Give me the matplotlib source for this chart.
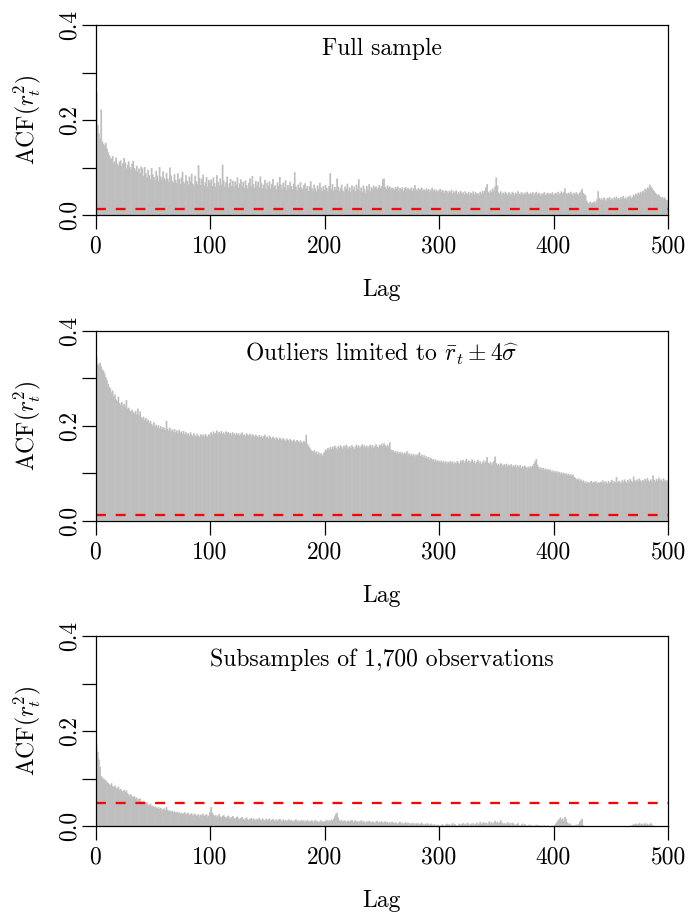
import matplotlib
matplotlib.use('Agg')
import matplotlib.pyplot as plt
import numpy as np

plt.rcParams['font.family'] = 'serif'
plt.rcParams['font.serif'] = ['cmr10']
plt.rcParams['mathtext.fontset'] = 'cm'
plt.rcParams['axes.unicode_minus'] = False

# ---------------- data (ACF of squared returns, lags 1..500) ----------------
acf_full = [
    .258, .190, .172, .160, .222, .155, .150, .146, .152, .140, .132, .126, .121, .118, .124, .110, .113, .121, .108, .104,
    .112, .115, .103, .109, .120, .111, .098, .106, .113, .101, .096, .108, .114, .099, .094, .104, .091, .098, .088, .102,
    .098, .082, .101, .087, .079, .095, .084, .076, .099, .086, .080, .074, .093, .083, .072, .101, .081, .075, .092, .078,
    .073, .089, .077, .070, .100, .083, .072, .068, .086, .074, .067, .088, .076, .065, .079, .091, .070, .066, .084, .072,
    .064, .081, .070, .087, .066, .062, .083, .071, .065, .105, .078, .063, .076, .085, .062, .069, .080, .060, .074, .068,
    .075, .061, .079, .067, .059, .084, .070, .062, .077, .064, .106, .073, .060, .069, .081, .058, .067, .076, .061, .072,
    .060, .071, .064, .079, .057, .067, .075, .061, .070, .058, .073, .063, .056, .068, .077, .060, .082, .065, .057, .072,
    .062, .070, .058, .081, .067, .056, .064, .074, .055, .068, .061, .071, .056, .065, .076, .059, .063, .054, .069, .061,
    .080, .064, .055, .068, .059, .073, .053, .063, .058, .070, .061, .054, .066, .090, .060, .052, .064, .057, .069, .058,
    .054, .063, .067, .055, .061, .051, .060, .071, .057, .052, .064, .056, .050, .062, .055, .068, .058, .051, .061, .053,
    .063, .057, .050, .061, .088, .054, .065, .051, .059, .053, .077, .060, .050, .057, .064, .052, .049, .060, .055, .066,
    .051, .058, .049, .062, .053, .060, .050, .064, .055, .075, .051, .058, .048, .062, .054, .047, .061, .052, .065, .050,
    .059, .055, .062, .057, .060, .054, .058, .063, .056, .061, .075, .077, .059, .055, .062, .057, .060, .054, .058, .056,
    .053, .059, .055, .060, .052, .057, .054, .058, .051, .056, .059, .053, .057, .052, .055, .058, .051, .056, .063, .054,
    .052, .057, .053, .055, .058, .051, .054, .050, .056, .052, .055, .049, .053, .057, .051, .054, .050, .053, .048, .052,
    .055, .049, .053, .051, .047, .052, .050, .046, .051, .048, .053, .045, .050, .047, .052, .044, .049, .046, .051, .045,
    .048, .043, .050, .046, .044, .049, .042, .047, .045, .050, .043, .048, .044, .046, .042, .049, .045, .051, .047, .052,
    .058, .065, .049, .046, .052, .048, .056, .050, .060, .079, .062, .048, .045, .050, .043, .047, .044, .049, .046, .042,
    .048, .045, .043, .049, .046, .042, .047, .044, .050, .045, .043, .048, .046, .042, .047, .044, .049, .045, .043, .047,
    .044, .048, .042, .046, .049, .043, .047, .045, .041, .046, .044, .048, .042, .045, .047, .043, .046, .044, .048, .042,
    .045, .047, .043, .049, .044, .046, .050, .045, .048, .056, .046, .043, .047, .044, .049, .045, .042, .047, .044, .048,
    .045, .043, .047, .050, .055, .046, .044, .041, .030, .026, .025, .028, .024, .027, .026, .029, .025, .033, .050, .036,
    .032, .035, .031, .037, .033, .030, .036, .034, .038, .032, .035, .031, .037, .034, .039, .033, .036, .032, .038, .035,
    .040, .034, .037, .033, .039, .036, .041, .035, .038, .043, .040, .045, .042, .047, .044, .049, .046, .051, .048, .055,
    .052, .058, .056, .064, .060, .057, .053, .050, .047, .044, .041, .043, .039, .036, .038, .034, .037, .033, .031, .030,
]

acf_trimmed = [
    .344, .330, .327, .333, .325, .318, .316, .310, .302, .296, .288, .282, .279, .270, .274, .262, .266, .255, .252, .261,
    .248, .244, .250, .242, .246, .240, .254, .236, .238, .232, .230, .234, .228, .226, .231, .224, .236, .222, .230, .218,
    .215, .219, .212, .216, .209, .213, .206, .210, .204, .200, .207, .198, .202, .196, .201, .194, .199, .193, .197, .195,
    .191, .210, .194, .189, .196, .188, .192, .187, .193, .186, .190, .184, .191, .185, .188, .183, .189, .182, .186, .181,
    .184, .179, .186, .181, .178, .184, .180, .177, .183, .179, .176, .182, .178, .181, .177, .183, .179, .176, .182, .180,
    .186, .181, .188, .183, .185, .190, .182, .187, .184, .189, .183, .186, .181, .188, .184, .187, .182, .185, .180, .186,
    .183, .180, .185, .181, .184, .179, .183, .186, .180, .182, .178, .184, .181, .179, .183, .177, .182, .180, .176, .181,
    .178, .175, .180, .176, .179, .174, .178, .181, .175, .177, .173, .179, .176, .172, .177, .174, .171, .176, .173, .170,
    .175, .172, .169, .174, .171, .168, .173, .170, .167, .172, .169, .166, .171, .168, .165, .170, .167, .164, .169, .166,
    .163, .168, .165, .181, .162, .158, .154, .150, .147, .145, .148, .143, .146, .140, .144, .139, .142, .137, .141, .145,
    .150, .148, .153, .149, .155, .151, .156, .152, .158, .154, .150, .157, .153, .159, .155, .151, .158, .154, .160, .156,
    .152, .157, .153, .159, .155, .151, .156, .160, .154, .158, .153, .157, .161, .155, .159, .154, .158, .152, .157, .160,
    .155, .159, .153, .157, .161, .156, .154, .160, .158, .162, .157, .163, .159, .155, .160, .156, .165, .150, .146, .149,
    .144, .147, .142, .146, .141, .145, .140, .144, .139, .143, .141, .146, .138, .142, .137, .141, .136, .140, .135, .139,
    .137, .141, .144, .136, .139, .134, .138, .132, .136, .131, .134, .128, .132, .127, .130, .125, .129, .124, .127, .126,
    .123, .127, .122, .126, .121, .125, .120, .124, .122, .126, .121, .125, .119, .123, .121, .126, .122, .120, .127, .124,
    .128, .122, .126, .130, .124, .127, .121, .125, .129, .123, .126, .120, .124, .128, .122, .125, .119, .123, .127, .121,
    .125, .134, .122, .120, .124, .118, .122, .126, .135, .121, .117, .120, .116, .121, .118, .115, .119, .116, .120, .114,
    .118, .115, .119, .113, .117, .114, .118, .112, .116, .113, .117, .111, .115, .112, .116, .113, .110, .114, .111, .115,
    .112, .116, .120, .125, .130, .118, .113, .109, .112, .108, .111, .107, .110, .106, .109, .105, .108, .103, .106, .102,
    .105, .101, .104, .100, .103, .099, .102, .098, .101, .097, .100, .096, .099, .095, .098, .094, .097, .092, .090, .088,
    .086, .089, .084, .087, .082, .085, .080, .083, .079, .082, .078, .081, .084, .079, .082, .080, .083, .078, .081, .079,
    .082, .080, .085, .079, .083, .081, .078, .084, .080, .082, .086, .079, .083, .081, .092, .080, .084, .082, .079, .085,
    .081, .087, .083, .080, .086, .082, .088, .084, .081, .093, .085, .082, .087, .083, .089, .085, .081, .086, .083, .088,
    .084, .090, .085, .082, .087, .083, .095, .086, .082, .088, .084, .091, .085, .087, .083, .089, .084, .086, .082, .085,
]

acf_sub = [
    .170, .156, .140, .125, .105, .102, .100, .098, .096, .093, .091, .088, .086, .090, .084, .082, .085, .080, .079, .083,
    .076, .078, .074, .073, .076, .071, .075, .069, .066, .064, .067, .062, .061, .063, .058, .060, .055, .057, .058, .052,
    .050, .053, .048, .047, .050, .045, .044, .047, .042, .043, .040, .041, .039, .037, .040, .036, .038, .035, .034, .037,
    .033, .040, .034, .031, .033, .030, .032, .029, .031, .028, .030, .027, .029, .026, .028, .025, .027, .029, .024, .026,
    .028, .023, .025, .027, .022, .024, .026, .021, .023, .025, .020, .024, .022, .026, .021, .023, .025, .020, .022, .030,
    .040, .028, .024, .021, .023, .019, .022, .025, .020, .018, .021, .023, .019, .017, .020, .022, .018, .016, .019, .021,
    .017, .015, .018, .020, .016, .014, .017, .019, .015, .013, .016, .018, .014, .012, .015, .017, .013, .016, .014, .012,
    .015, .013, .017, .014, .012, .016, .013, .011, .015, .012, .014, .016, .011, .013, .015, .012, .010, .014, .011, .013,
    .015, .012, .010, .014, .011, .013, .009, .012, .014, .010, .013, .011, .009, .012, .014, .010, .012, .009, .011, .013,
    .010, .012, .008, .011, .013, .009, .011, .010, .012, .008, .010, .013, .009, .011, .007, .010, .012, .008, .010, .009,
    .011, .013, .009, .012, .010, .014, .011, .015, .020, .026, .028, .018, .012, .010, .013, .009, .011, .012, .008, .010,
    .012, .009, .011, .013, .008, .010, .012, .009, .011, .007, .010, .012, .008, .011, .009, .006, .010, .008, .011, .009,
    .007, .010, .008, .006, .009, .011, .007, .009, .008, .010, .006, .008, .010, .007, .009, .005, .008, .006, .009, .007,
    .005, .008, .006, .004, .007, .009, .005, .007, .004, .006, .008, .005, .007, .003, .006, .004, .007, .005, .003, .006,
    .004, .006, .003, .005, .007, .004, .002, .005, .003, .006, .004, .002, .005, .003, .001, .004, .002, -.002, .003, .001,
    -.001, .002, .004, .001, -.002, .003, .005, .002, .004, .001, .003, .006, .002, .004, .001, -.001, .003, .005, .002, .004,
    .006, .003, .005, .002, .007, .004, .001, .005, .003, .006, .002, .004, .007, .003, .005, .009, .004, .006, .008, .005,
    .007, .003, .006, .010, .005, .008, .004, .007, .011, .006, .009, .005, .008, .012, .007, .004, .006, .003, .005, .008,
    .004, .006, .002, .007, .005, .003, .001, .004, .006, .002, -.001, .003, .005, .001, .004, .002, -.002, .001, .003, -.001,
    .002, .000, -.002, .001, .003, -.001, .002, -.003, .001, -.002, .000, .002, -.001, -.003, .001, -.002, .000, -.004, .001, -.002,
    .002, .005, .008, .012, .014, .018, .013, .016, .011, .019, .015, .008, .004, .006, .003, .001, -.002, .002, -.001, .003,
    .001, .004, .009, .012, .015, .002, -.003, -.005, -.004, -.006, -.003, -.007, -.005, -.004, -.008, -.006, -.003, -.005, -.007, -.004,
    -.006, -.003, -.005, -.008, -.004, -.006, -.003, -.007, -.005, -.004, -.006, -.008, -.003, -.005, -.007, -.004, -.006, -.003, -.005, -.007,
    -.004, -.006, -.003, -.005, -.002, -.004, -.001, .001, .002, .004, .003, .005, .002, .004, .006, .003, .005, .002, .004, .006,
    .003, .005, .002, .004, .006, .003, .001, -.002, -.004, -.003, -.005, -.002, -.004, -.006, -.003, -.005, -.002, -.004, -.003, -.005,
]

conf_levels = [0.0128, 0.0120, 0.0480]
titles = ["Full sample",
          r"Outliers limited to $\bar{r}_t \pm 4\widehat{\sigma}$",
          "Subsamples of 1,700 observations"]
x_ticks = [0, 100, 200, 300, 400, 500]
x_tick_labels = ["0", "100", "200", "300", "400", "500"]
y_ticks = [0.0, 0.1, 0.2, 0.3, 0.4]
y_tick_labels = ["0.0", "", "0.2", "", "0.4"]
y_label = r"ACF($r_t^2$)"
x_label = "Lag"

# ---------------- layout ----------------
W, H = 688, 915
boxes = [(95.5, 25.0, 668.0, 215.0),
         (95.5, 330.7, 668.0, 520.7),
         (95.5, 636.0, 668.0, 826.0)]
FS = 17

fig = plt.figure(figsize=(W / 100, H / 100), dpi=100)
for (x0, y0, x1, y1), vals, conf, title in zip(boxes, [acf_full, acf_trimmed, acf_sub],
                                               conf_levels, titles):
    ax = fig.add_axes([x0 / W, 1 - y1 / H, (x1 - x0) / W, (y1 - y0) / H])
    lags = np.arange(1, len(vals) + 1)
    ax.vlines(lags, 0, vals, colors='#BEBEBE', lw=1.25, snap=False, antialiased=True)
    ax.axhline(conf, color='#FF0000', lw=1.65, dashes=(4.3, 4.3))
    ax.set_xlim(0, 500)
    ax.set_ylim(0, 0.4)
    ax.set_xticks(x_ticks)
    ax.set_xticklabels(x_tick_labels)
    ax.set_yticks(y_ticks)
    ax.set_yticklabels(y_tick_labels, rotation=90, va='center')
    ax.tick_params(direction='out', length=10, width=0.9, labelsize=FS, pad=5, colors='black')
    ax.tick_params(axis='y', pad=0.5)
    for s in ax.spines.values():
        s.set_linewidth(0.9)
        s.set_color('black')
    hpx = y1 - y0
    wpx = x1 - x0
    ax.text(0.5, 1 - 30 / hpx, title, transform=ax.transAxes, ha='center', va='baseline', fontsize=FS)
    ax.text((27 - x0) / wpx, 0.5, y_label, transform=ax.transAxes, rotation=90,
            ha='center', va='center', fontsize=FS)
    ax.text(0.5, -75 / hpx, x_label, transform=ax.transAxes, ha='center', va='center', fontsize=FS)

fig.savefig('out.png', dpi=100)
